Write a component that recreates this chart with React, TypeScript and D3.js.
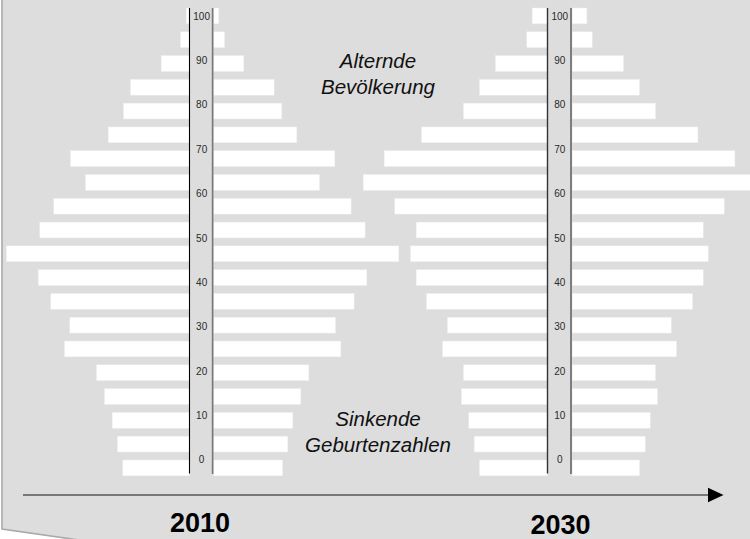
import React from "react";
import * as d3 from "d3";

// Age groups, youngest first (5-year groups)
const ageGroups = [
  "0–4", "5–9", "10–14", "15–19", "20–24", "25–29", "30–34", "35–39", "40–44", "45–49",
  "50–54", "55–59", "60–64", "65–69", "70–74", "75–79", "80–84", "85–89", "90–94", "95–99",
];

// 2010 – left (men) and right (women) bar lengths, youngest first
const left2010 = [66.7, 72, 77.3, 85, 93, 125, 119.7, 138.7, 151.3, 183, 149.7, 135.7, 104, 119, 81.3, 66, 59, 28.3, 9, 3.3];
const right2010 = [68.7, 74, 79, 87, 95, 127, 121.7, 140.3, 153, 185, 151.3, 137.3, 105.7, 121, 83, 68, 60.3, 30, 10.7, 5];

// 2030 – left and right bar lengths, youngest first
const left2030 = [68, 73.3, 78.7, 86, 84, 105, 100, 121, 131.3, 137, 131.3, 152.7, 184.3, 163.3, 126, 84, 68, 52, 20.7, 15.3];
const right2030 = [67.3, 73, 78, 85.3, 83.3, 104.3, 99, 120.3, 131, 136, 131, 152, 186, 162.7, 125.7, 83.3, 67.3, 51.3, 20, 14.7];

// Age axis tick labels
const ageTicks = [0, 10, 20, 30, 40, 50, 60, 70, 80, 90, 100];

const years = ["2010", "2030"];
const noteTop = ["Alternde", "Bevölkerung"];
const noteBottom = ["Sinkende", "Geburtenzahlen"];

const W = 750;
const H = 539;
const FONT = "'Liberation Sans', Arial, Helvetica, sans-serif";

const yBand = d3
  .scaleBand<string>()
  .domain([...ageGroups].reverse())
  .range([8, 475.8])
  .paddingInner(0.336)
  .paddingOuter(0);

const yAge = d3.scaleLinear().domain([0, 100]).range([460, 16.3]);
const xLen = d3.scaleLinear().domain([0, 200]).range([0, 200]);

type PyrProps = {
  leftEdge: number;
  rightEdge: number;
  left: number[];
  right: number[];
  leftLineColor: string;
  rightLineColor: string;
  leftLineW: number;
  rightLineW: number;
};

function Pyramid({ leftEdge, rightEdge, left, right, leftLineColor, rightLineColor, leftLineW, rightLineW }: PyrProps) {
  const mid = (leftEdge + rightEdge) / 2;
  return (
    <g>
      {ageGroups.map((g, i) => (
        <g key={g}>
          <rect
            x={leftEdge - xLen(left[i])}
            y={yBand(g)}
            width={xLen(left[i])}
            height={yBand.bandwidth()}
            fill="#ffffff"
            stroke="#eeeeee"
            strokeWidth={0.5}
          />
          <rect
            x={rightEdge}
            y={yBand(g)}
            width={xLen(right[i])}
            height={yBand.bandwidth()}
            fill="#ffffff"
            stroke="#eeeeee"
            strokeWidth={0.5}
          />
        </g>
      ))}
      <line x1={leftEdge} x2={leftEdge} y1={8} y2={473.5} stroke={leftLineColor} strokeWidth={leftLineW} />
      <line x1={rightEdge - 1.2} x2={rightEdge - 1.2} y1={8} y2={474} stroke={rightLineColor} strokeWidth={rightLineW} />
      {ageTicks.map((t) => (
        <text
          key={t}
          x={mid}
          y={yAge(t) + 3.4}
          textAnchor="middle"
          fontSize={10}
          fontFamily={FONT}
          fill="#2a2a2a"
        >
          {t}
        </text>
      ))}
    </g>
  );
}

export default function App() {
  return (
    <div style={{ position: "absolute", left: 0, top: 0 }}>
      <svg width={W} height={H} style={{ display: "block" }}>
        <rect x={0} y={0} width={W} height={H} fill="#ffffff" />
        <polygon points="2,-2 752,-2 752,545 107,545 2,529" fill="#dddddd" />
        <polyline points="2,-2 2,529 107,544" fill="none" stroke="#aaaaaa" strokeWidth={1.6} />

        <Pyramid
          leftEdge={189.5}
          rightEdge={213.8}
          left={left2010}
          right={right2010}
          leftLineColor="#000"
          rightLineColor="#777"
          leftLineW={1.1}
          rightLineW={1.6}
        />
        <Pyramid
          leftEdge={547.5}
          rightEdge={572.2}
          left={left2030}
          right={right2030}
          leftLineColor="#333"
          rightLineColor="#555"
          leftLineW={1.4}
          rightLineW={1.4}
        />

        {/* annotations */}
        {noteTop.map((t, i) => (
          <text key={t} x={378} y={68 + i * 26.3} textAnchor="middle" fontSize={20.5} fontStyle="italic" fontFamily={FONT} fill="#111">
            {t}
          </text>
        ))}
        {noteBottom.map((t, i) => (
          <text key={t} x={378} y={426 + i * 26.3} textAnchor="middle" fontSize={20.5} fontStyle="italic" fontFamily={FONT} fill="#111">
            {t}
          </text>
        ))}

        {/* time arrow */}
        <line x1={23} x2={710} y1={495} y2={495} stroke="#555" strokeWidth={1.5} />
        <polygon points="708,487.7 723.5,495 708,502.3" fill="#000" />

        <text x={200} y={532} textAnchor="middle" fontSize={27} fontWeight="bold" fontFamily={FONT} fill="#000">
          {years[0]}
        </text>
        <text x={560.5} y={534} textAnchor="middle" fontSize={27} fontWeight="bold" fontFamily={FONT} fill="#000">
          {years[1]}
        </text>
      </svg>
    </div>
  );
}
